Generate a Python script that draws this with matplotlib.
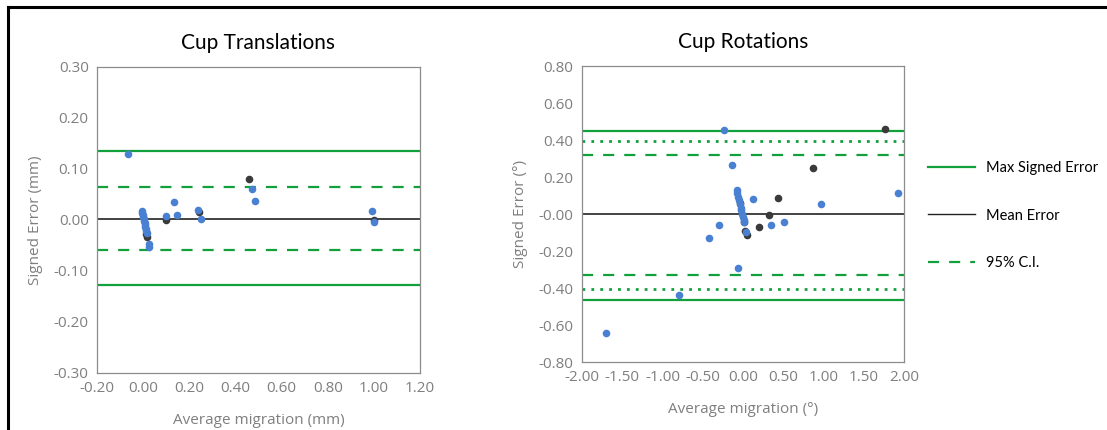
import numpy as np
import matplotlib.pyplot as plt
from matplotlib.lines import Line2D

# --- Cup translations (mm) ---
trans_blue_x = [-0.065, -0.005, -0.004, -0.002, 0.000, 0.002, 0.004, 0.006, 0.008, 0.010,
                0.012, 0.014, 0.016, 0.027, 0.025, 0.098, 0.134, 0.148, 0.236, 0.250,
                0.470, 0.483, 0.990, 0.999]
trans_blue_y = [0.130, 0.018, 0.014, 0.010, 0.006, 0.002, -0.002, -0.006, -0.010, -0.014,
                -0.018, -0.022, -0.026, -0.052, -0.048, 0.007, 0.036, 0.010, 0.020, 0.002,
                0.061, 0.037, 0.018, -0.003]
trans_black_x = [0.018, 0.012, 0.099, 0.243, 0.460, 0.999]
trans_black_y = [-0.034, -0.028, 0.000, 0.015, 0.080, -0.001]
trans_max = [0.136, -0.128]
trans_mean = 0.002
trans_ci = [0.065, -0.058]

# --- Cup rotations (deg) ---
rot_blue_x = [-0.23, -0.13, -0.08, -0.07, -0.06, -0.05, -0.04, -0.03, -0.02, -0.01,
              0.00, 0.01, 0.016, 0.13, 1.93, 0.97, 0.35, 0.51, -0.30, -0.42,
              0.037, -0.066, -0.79, -1.70]
rot_blue_y = [0.457, 0.267, 0.130, 0.115, 0.095, 0.075, 0.055, 0.035, 0.020, 0.000,
              -0.015, -0.030, -0.043, 0.082, 0.113, 0.057, -0.061, -0.043, -0.061, -0.128,
              -0.098, -0.293, -0.440, -0.644]
rot_black_x = [1.77, 0.874, 0.44, 0.32, 0.195, 0.025, 0.045, -0.04, 0.01]
rot_black_y = [0.463, 0.248, 0.087, -0.006, -0.067, -0.089, -0.113, 0.060, -0.040]
rot_max = [0.452, -0.463]
rot_mean = 0.0
rot_ci99 = [0.393, -0.405]
rot_ci95 = [0.320, -0.330]

blue = '#4a80d2'
black = '#3a3a3a'
green = '#12a03c'
grey = '#7f7f7f'

plt.rcParams['font.family'] = ['Open Sans', 'DejaVu Sans']

fig = plt.figure(figsize=(11.07, 4.30), dpi=100)
ax1 = fig.add_axes([0.0876, 0.1326, 0.2918, 0.7116])
ax2 = fig.add_axes([0.5257, 0.158, 0.2909, 0.688])


def style(ax):
    for s in ax.spines.values():
        s.set_color('#8c8c8c')
        s.set_linewidth(0.9)
    ax.tick_params(length=0, colors=grey, labelsize=11, pad=6)


# left plot
ax1.axhline(trans_max[0], color=green, lw=1.6)
ax1.axhline(trans_max[1], color=green, lw=1.6)
ax1.axhline(trans_ci[0], color=green, lw=1.6, ls=(0, (5, 4.5)))
ax1.axhline(trans_ci[1], color=green, lw=1.6, ls=(0, (5, 4.5)))
ax1.axhline(trans_mean, color='#222222', lw=1.2)
ax1.scatter(trans_black_x, trans_black_y, s=30, color=black, zorder=3, lw=0)
ax1.scatter(trans_blue_x, trans_blue_y, s=30, color=blue, zorder=4, lw=0)
ax1.set_xlim(-0.2, 1.2)
ax1.set_ylim(-0.3, 0.3)
ax1.set_xticks(np.arange(-0.2, 1.21, 0.2))
ax1.set_yticks(np.arange(-0.3, 0.31, 0.1))
ax1.xaxis.set_major_formatter(plt.FormatStrFormatter('%.2f'))
ax1.yaxis.set_major_formatter(plt.FormatStrFormatter('%.2f'))
ax1.set_title('Cup Translations', fontsize=15, family=['Lato', 'DejaVu Sans'], pad=13)
ax1.set_ylabel('Signed Error (mm)', color=grey, fontsize=11, labelpad=8)
ax1.set_xlabel('Average migration (mm)', color=grey, fontsize=11, labelpad=12)
style(ax1)

# right plot
ax2.axhline(rot_max[0], color=green, lw=1.6)
ax2.axhline(rot_max[1], color=green, lw=1.6)
ax2.axhline(rot_ci99[0], color=green, lw=2.0, ls=(0, (1, 2.2)))
ax2.axhline(rot_ci99[1], color=green, lw=2.0, ls=(0, (1, 2.2)))
ax2.axhline(rot_ci95[0], color=green, lw=1.6, ls=(0, (5, 4.5)))
ax2.axhline(rot_ci95[1], color=green, lw=1.6, ls=(0, (5, 4.5)))
ax2.axhline(rot_mean, color='#222222', lw=1.2)
ax2.scatter(rot_black_x, rot_black_y, s=30, color=black, zorder=3, lw=0)
ax2.scatter(rot_blue_x, rot_blue_y, s=30, color=blue, zorder=4, lw=0)
ax2.set_xlim(-2.0, 2.0)
ax2.set_ylim(-0.8, 0.8)
ax2.set_xticks(np.arange(-2.0, 2.01, 0.5))
ax2.set_yticks(np.arange(-0.8, 0.81, 0.2))
ax2.xaxis.set_major_formatter(plt.FormatStrFormatter('%.2f'))
ax2.yaxis.set_major_formatter(plt.FormatStrFormatter('%.2f'))
ax2.set_title('Cup Rotations', fontsize=15, family=['Lato', 'DejaVu Sans'], pad=13)
ax2.set_ylabel('Signed Error (°)', color=grey, fontsize=11, labelpad=8)
ax2.set_xlabel('Average migration (°)', color=grey, fontsize=11, labelpad=12)
style(ax2)

handles = [Line2D([], [], color=green, lw=1.6),
           Line2D([], [], color='#222222', lw=1.0),
           Line2D([], [], color=green, lw=1.6, ls=(0, (5, 4.5)))]
fig.legend(handles, ['Max Signed Error', 'Mean Error', '95% C.I.'],
           loc='upper left', bbox_to_anchor=(0.8265, 0.656), frameon=False,
           handlelength=3.2, handletextpad=0.8, labelspacing=2.3,
           prop={'family': ['Lato', 'DejaVu Sans'], 'size': 10.5})

# outer frame (top and left edges visible)
fig.add_artist(Line2D([0.007, 1.0], [0.983, 0.983], color='black', lw=2.2,
                      transform=fig.transFigure))
fig.add_artist(Line2D([0.007, 0.007], [0.0, 0.983], color='black', lw=2.2,
                      transform=fig.transFigure))

fig.savefig('out.png', dpi=100)
